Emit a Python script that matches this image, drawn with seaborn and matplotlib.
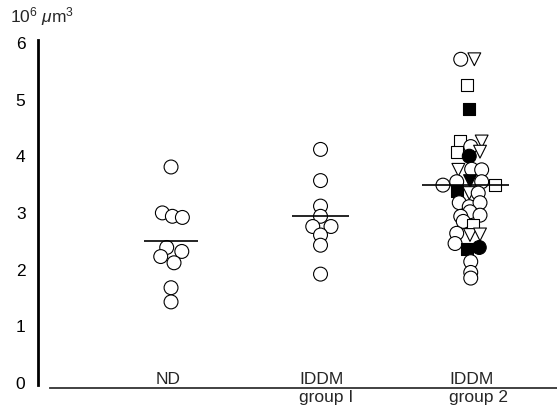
import matplotlib
matplotlib.use("Agg")
import matplotlib.pyplot as plt
import pandas as pd
import seaborn as sns

# values (10^6 um^3), with the small sideways shifts of the points
groups = ["ND", "IDDM group 1", "IDDM group 2"]
group_labels = ["ND", "IDDM\ngroup I", "IDDM\ngroup 2"]

nd_values = [3.81, 3.00, 2.94, 2.92, 2.39, 2.32, 2.23, 2.12, 1.68, 1.43]
nd_shift = [0.0, -0.058, 0.009, 0.076, -0.029, 0.072, -0.069, 0.02, 0.0, 0.0]

g1_values = [4.12, 3.57, 3.12, 2.94, 2.76, 2.76, 2.61, 2.43, 1.92]
g1_shift = [0.0, 0.0, 0.0, 0.0, -0.052, 0.07, 0.0, 0.0, 0.0]

g2_values = [5.71, 5.71, 5.26, 4.83, 4.27, 4.26, 4.17, 4.08, 4.08, 4.00,
             3.76, 3.77, 3.76, 3.56, 3.49, 3.55, 3.55, 3.49, 3.38, 3.35,
             3.35, 3.18, 3.11, 3.18, 3.02, 2.94, 2.96, 2.85, 2.79, 2.64,
             2.61, 2.62, 2.46, 2.37, 2.39, 2.14, 1.95, 1.85]
g2_shift = [-0.062, 0.029, -0.022, -0.005, -0.067, 0.078, 0.005, -0.089, 0.067, -0.005,
            -0.078, 0.011, 0.078, 0.0, -0.181, -0.089, 0.078, 0.167, -0.085, -0.005,
            0.055, -0.072, -0.005, 0.067, 0.0, -0.062, 0.067, -0.045, 0.018, -0.089,
            0.0, 0.067, -0.100, -0.018, 0.062, 0.005, 0.005, 0.005]
g2_shape = ["circle", "triangle", "square", "square", "square", "triangle", "circle", "square", "triangle", "circle",
            "triangle", "circle", "circle", "triangle", "circle", "circle", "circle", "square", "square", "triangle",
            "circle", "circle", "circle", "circle", "circle", "circle", "circle", "circle", "square", "circle",
            "triangle", "triangle", "circle", "square", "circle", "circle", "circle", "circle"]
g2_fill = ["open", "open", "open", "filled", "open", "open", "open", "open", "open", "filled",
           "open", "open", "open", "filled", "open", "open", "open", "open", "filled", "open",
           "open", "open", "open", "open", "open", "open", "open", "open", "open", "open",
           "open", "open", "open", "filled", "filled", "open", "open", "open"]

# group means (horizontal bars)
group_means = [2.51, 2.94, 3.50]

rows = []
for i, (vals, shifts) in enumerate([(nd_values, nd_shift), (g1_values, g1_shift)]):
    for v, d in zip(vals, shifts):
        rows.append((groups[i], i + 1 + d, v, "circle", "open"))
for v, d, sh, f in zip(g2_values, g2_shift, g2_shape, g2_fill):
    rows.append((groups[2], 3 + d, v, sh, f))
df = pd.DataFrame(rows, columns=["group", "pos", "volume", "shape", "fill"])

sns.set_style("white")
plt.rcParams["font.family"] = ["Liberation Sans", "DejaVu Sans"]
plt.rcParams["mathtext.fontset"] = "custom"
plt.rcParams["mathtext.rm"] = "Liberation Sans"
plt.rcParams["mathtext.it"] = "Liberation Sans:italic"

fig = plt.figure(figsize=(5.57, 4.12), dpi=100)
ax = fig.add_axes([38 / 557, 1 - 387.5 / 412, 1 - 38 / 557, (387.5 - 40) / 412])

sns.scatterplot(data=df, x="pos", y="volume", hue="fill", style="shape", size="shape",
                palette={"open": "white", "filled": "black"},
                markers={"circle": "o", "square": "s", "triangle": "v"},
                sizes={"circle": 100, "square": 72, "triangle": 85},
                edgecolor="black", linewidth=0.8, legend=False, ax=ax, zorder=2)

half = [0.18, 0.19, 0.29]
centers = [1.0, 2.0, 2.97]
ax.hlines(group_means, [c - h for c, h in zip(centers, half)],
          [c + h for c, h in zip(centers, half)], color="black", lw=1.2, zorder=3)

ax.set_xlim(0.11, 3.582)
ax.set_ylim(-0.08, 6.05)
ax.set_yticks(range(7))
ax.set_xticks([])
ax.set_xlabel("")
ax.set_ylabel("")
ax.tick_params(axis="y", length=0, pad=9, labelsize=12.5, labelcolor="black")

ax.spines["top"].set_visible(False)
ax.spines["right"].set_visible(False)
ax.spines["left"].set_color("black")
ax.spines["left"].set_linewidth(2)
ax.spines["left"].set_bounds(-0.03, 6.05)
ax.spines["bottom"].set_color("#333333")
ax.spines["bottom"].set_linewidth(1.3)
ax.spines["bottom"].set_bounds(0.19, 3.582)

label_x = [0.983, 1.856, 2.86]
label_ha = ["center", "left", "left"]
for x, lab, ha in zip(label_x, group_labels, label_ha):
    ax.text(x, 0.185, lab, ha=ha, va="top", fontsize=12.5,
            multialignment="left", linespacing=1.25, zorder=4)

fig.text(10 / 557, 1 - 22 / 412, r"10$^6$ $\mu$m$^3$", fontsize=12.5, va="baseline")

fig.savefig("out.png", dpi=100)
